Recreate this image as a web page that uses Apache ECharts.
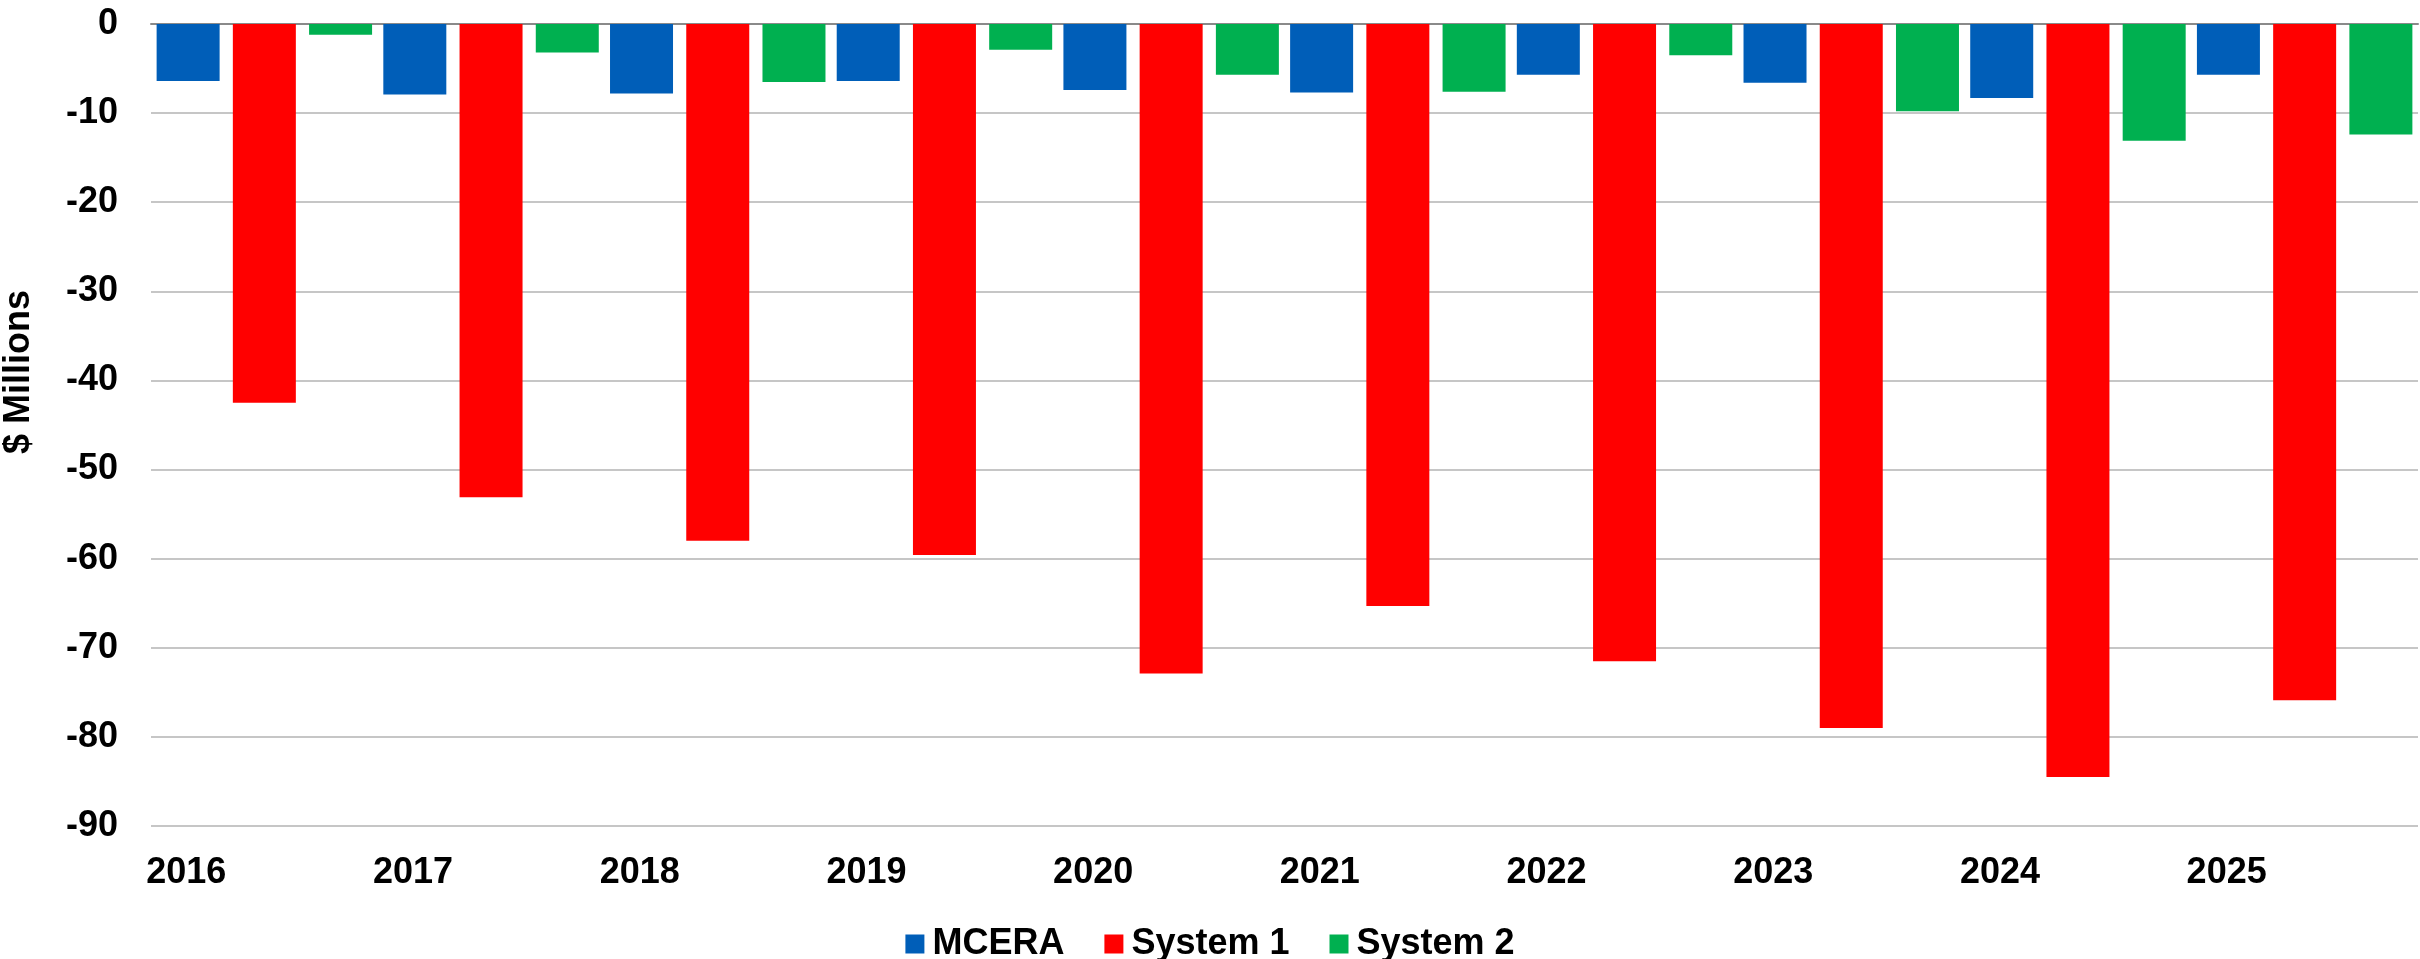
<!DOCTYPE html>
<html>
<head>
<meta charset="utf-8">
<script src="https://cdn.jsdelivr.net/npm/echarts@6/dist/echarts.min.js"></script>
<style>
  html, body { margin: 0; padding: 0; background: #ffffff; }
  #chart { width: 2420px; height: 959px; }
</style>
</head>
<body>
<div id="chart"></div>
<script>
// Annual amounts, $ millions
const years = ['2016', '2017', '2018', '2019', '2020', '2021', '2022', '2023', '2024', '2025'];
const mcera = [-6.4, -7.9, -7.8, -6.4, -7.4, -7.7, -5.7, -6.6, -8.3, -5.7];
const system1 = [-42.5, -53.1, -58.0, -59.6, -72.9, -65.3, -71.5, -79.0, -84.5, -75.9];
const system2 = [-1.2, -3.2, -6.5, -2.9, -5.7, -7.6, -3.5, -9.8, -13.1, -12.4];
const yTicks = [0, -10, -20, -30, -40, -50, -60, -70, -80, -90];

const FONT = "'Liberation Sans', Arial, sans-serif";

const chart = echarts.init(document.getElementById('chart'), null, { renderer: 'canvas' });

chart.setOption({
  backgroundColor: '#ffffff',
  animation: false,
  grid: { left: 151, right: 2, top: 24, bottom: 133, containLabel: false },
  legend: {
    data: ['MCERA', 'System 1', 'System 2'],
    left: 'center',
    top: 921,
    icon: 'rect',
    itemWidth: 19,
    itemHeight: 19,
    itemGap: 40,
    textStyle: { fontFamily: FONT, fontSize: 36, fontWeight: 'bold', color: '#000', padding: [0, 0, 0, 3] }
  },
  xAxis: [
    {
      type: 'category',
      data: years,
      position: 'bottom',
      axisLine: { show: false, onZero: false },
      axisTick: { show: false },
      splitLine: { show: false },
      axisLabel: {
        fontFamily: FONT, fontSize: 36, fontWeight: 'bold', color: '#000',
        margin: 29,
        padding: [0, 156, 0, 0]
      }
    },
    {
      // zero baseline along the top edge
      type: 'category',
      data: years,
      position: 'top',
      axisLine: { show: true, onZero: false, lineStyle: { color: '#8a8a8a', width: 2 } },
      axisTick: { show: false },
      axisLabel: { show: false },
      splitLine: { show: false }
    }
  ],
  yAxis: {
    type: 'value',
    min: -90,
    max: 0,
    interval: 10,
    axisLine: { show: false },
    axisTick: { show: false },
    splitLine: { show: true, lineStyle: { color: '#c6c6c6', width: 2 } },
    axisLabel: {
      fontFamily: FONT, fontSize: 36, fontWeight: 'bold', color: '#000',
      margin: 33,
      formatter: function (v) { return yTicks.indexOf(v) >= 0 ? String(v) : ''; }
    }
  },
  graphic: [
    {
      type: 'text',
      x: 19,
      y: 372,
      rotation: Math.PI / 2,
      style: {
        text: '$ Millions',
        fontFamily: FONT, fontSize: 36, fontWeight: 'bold', fill: '#000',
        align: 'center', verticalAlign: 'middle'
      }
    }
  ],
  series: [
    { name: 'MCERA', type: 'bar', data: mcera, barWidth: 63, barGap: '21%', itemStyle: { color: '#005EB8' } },
    { name: 'System 1', type: 'bar', data: system1, barWidth: 63, barGap: '21%', itemStyle: { color: '#FF0000' } },
    { name: 'System 2', type: 'bar', data: system2, barWidth: 63, barGap: '21%', itemStyle: { color: '#00B050' } }
  ]
});
</script>
</body>
</html>
